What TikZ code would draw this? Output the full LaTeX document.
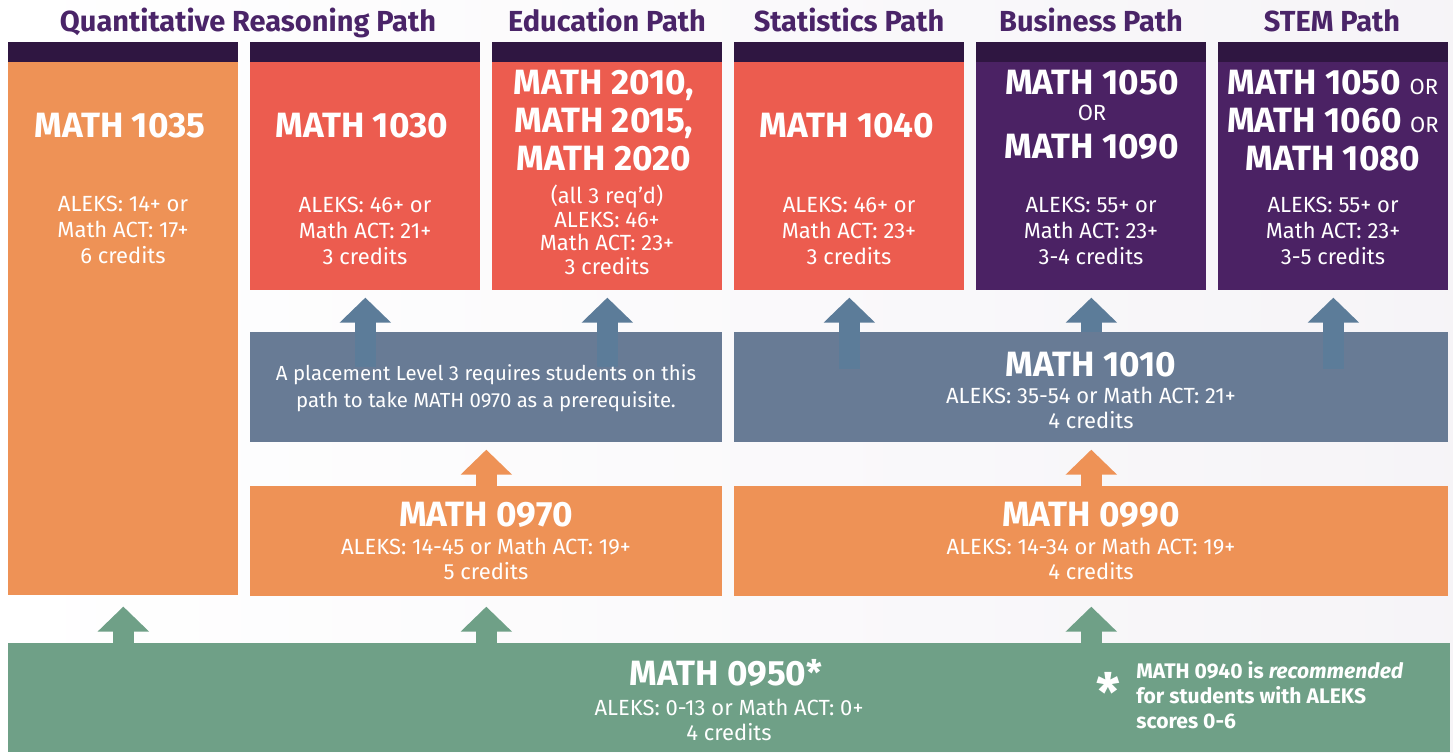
\documentclass[tikz,border=0pt]{standalone}
\usepackage{fontspec}
\setmainfont{Fira Sans}
\usetikzlibrary{arrows.meta,positioning}

\definecolor{bardark}{HTML}{2F1641}
\definecolor{headpurple}{HTML}{4A2468}
\definecolor{qorange}{HTML}{EE9256}
\definecolor{pathred}{HTML}{EC5C4F}
\definecolor{pathpurple}{HTML}{4B2264}
\definecolor{levelgray}{HTML}{687B95}
\definecolor{arrowblue}{HTML}{5C7C99}
\definecolor{basegreen}{HTML}{6FA087}

\tikzset{
  bar/.style={fill=bardark, minimum width=4.6cm, minimum height=0.4cm, inner sep=0pt, anchor=north west},
  course/.style={inner sep=0pt, anchor=north west, minimum width=4.6cm, minimum height=4.56cm},
  level/.style={inner sep=0pt, anchor=north west, minimum height=2.2cm},
  heading/.style={font=\bfseries\fontsize{16.5}{20}\selectfont, text=headpurple, anchor=base},
  title/.style={font=\bfseries\fontsize{20}{21.6}\selectfont, text=white, align=center, inner sep=0pt},
  info/.style={font=\fontsize{12.5}{14.6}\selectfont, text=white, align=center, inner sep=0pt},
  note/.style={font=\bfseries\fontsize{12}{14.2}\selectfont, text=white, align=left, inner sep=0pt},
  uparrow/.style={-{Triangle[length=0.5cm, width=1cm]}, line width=0.42cm, draw=#1},
}

\begin{document}
\begin{tikzpicture}[x=0.02cm, y=-0.02cm]
  % background
  \fill[left color=white, right color=headpurple!5] (0,0) rectangle (1453,752);

  % path headings
  \node[heading] (hqr)   at (248,32)  {Quantitative Reasoning Path};
  \node[heading] (hedu)  at (607,32)  {Education Path};
  \node[heading] (hstat) at (849,32)  {Statistics Path};
  \node[heading] (hbus)  at (1091,32) {Business Path};
  \node[heading] (hstem) at (1332,32) {STEM Path};

  \foreach \x [count=\i] in {8,250,492,734,976,1218}
    \node[bar] (bar\i) at (\x,42) {};

  % course boxes
  \node[course, fill=qorange, minimum height=10.66cm] (b1035) at (8,62) {};
  \node[course, fill=pathred]    (b1030) at (250,62)  {};
  \node[course, fill=pathred]    (b2010) at (492,62)  {};
  \node[course, fill=pathred]    (b1040) at (734,62)  {};
  \node[course, fill=pathpurple] (bbus)  at (976,62)  {};
  \node[course, fill=pathpurple] (bstem) at (1218,62) {};

  \node[level, fill=levelgray, minimum width=9.44cm]  (lvl3)  at (250,332) {};
  \node[level, fill=levelgray, minimum width=14.28cm] (m1010) at (734,332) {};
  \node[level, fill=qorange, minimum width=9.44cm]    (m0970) at (250,486) {};
  \node[level, fill=qorange, minimum width=14.28cm]   (m0990) at (734,486) {};
  \node[level, fill=basegreen, minimum width=28.84cm, minimum height=2.18cm] (m0950) at (8,643) {};

  % arrows
  \draw[uparrow=arrowblue] ([yshift=-0.7cm]lvl3.north -| b1030.south) -- ([yshift=-0.14cm]b1030.south);
  \draw[uparrow=arrowblue] ([yshift=-0.7cm]lvl3.north -| b2010.south) -- ([yshift=-0.14cm]b2010.south);
  \draw[uparrow=arrowblue] ([yshift=-0.74cm]m1010.north -| b1040.south) -- ([yshift=-0.14cm]b1040.south);
  \draw[uparrow=arrowblue] (m1010.north -| bbus.south) -- ([yshift=-0.14cm]bbus.south);
  \draw[uparrow=arrowblue] ([yshift=-0.74cm]m1010.north -| bstem.south) -- ([yshift=-0.14cm]bstem.south);
  \draw[uparrow=qorange] (m0970.north) -- ([yshift=-0.14cm]lvl3.south);
  \draw[uparrow=qorange] (m0990.north) -- ([yshift=-0.14cm]m1010.south);
  \draw[uparrow=basegreen] (m0950.north -| b1035.south) -- ([yshift=-0.22cm]b1035.south);
  \draw[uparrow=basegreen] (m0950.north -| m0970.south) -- ([yshift=-0.2cm]m0970.south);
  \draw[uparrow=basegreen] (m0950.north -| m0990.south) -- ([yshift=-0.2cm]m0990.south);

  % box texts
  \node[title] (t1035) at (120,126) {MATH 1035};
  \node[info]  (i1035) at (123,230) {ALEKS: 14+ or\\Math ACT: 17+\\6 credits};
  \node[title] (t1030) at (362,126) {MATH 1030};
  \node[info]  (i1030) at (365,231) {ALEKS: 46+ or\\Math ACT: 21+\\3 credits};
  \node[title] (t2010) at (604,121) {MATH 2010,\\MATH 2015,\\MATH 2020};
  \node[info, font=\fontsize{12.5}{13.4}\selectfont] (i2010) at (607,230) {(all 3 req’d)\\ALEKS: 46+\\Math ACT: 23+\\3 credits};
  \node[title] (t1040) at (847,126) {MATH 1040};
  \node[info]  (i1040) at (849,231) {ALEKS: 46+ or\\Math ACT: 23+\\3 credits};
  \node[title] (t1050) at (1092,83)  {MATH 1050};
  \node[info]  (tor)   at (1092,113) {OR};
  \node[title] (t1090) at (1092,147) {MATH 1090};
  \node[info]  (ibus)  at (1091,231) {ALEKS: 55+ or\\Math ACT: 23+\\3-4 credits};
  \node[title] (tstem) at (1333,121) {MATH 1050 {\mdseries\fontsize{12.5}{12}\selectfont OR}\\MATH 1060 {\mdseries\fontsize{12.5}{12}\selectfont OR}\\MATH 1080};
  \node[info]  (istem) at (1333,231) {ALEKS: 55+ or\\Math ACT: 23+\\3-5 credits};

  \node[info, font=\fontsize{11.6}{15.4}\selectfont] (ilvl3) at (486,388) {A placement Level 3 requires students on this\\path to take MATH 0970 as a prerequisite.};
  \node[title] (t1010) at (1091,365) {MATH 1010};
  \node[info]  (i1010) at (1091,408) {ALEKS: 35-54 or Math ACT: 21+\\4 credits};
  \node[title] (t0970) at (486,515)  {MATH 0970};
  \node[info]  (i0970) at (486,559)  {ALEKS: 14-45 or Math ACT: 19+\\5 credits};
  \node[title] (t0990) at (1091,515) {MATH 0990};
  \node[info]  (i0990) at (1091,559) {ALEKS: 14-34 or Math ACT: 19+\\4 credits};
  \node[title] (t0950) at (726,673)  {MATH 0950*};
  \node[info]  (i0950) at (729,720)  {ALEKS: 0-13 or Math ACT: 0+\\4 credits};

  % footnote
  \node[font=\bfseries\fontsize{30}{30}\selectfont, text=white, anchor=base] (star) at (1108,711) {*};
  \node[note, anchor=west] (n0940) at (1136,695) {MATH 0940 is \textit{recommended}\\for students with ALEKS\\scores 0-6};
\end{tikzpicture}
\end{document}
